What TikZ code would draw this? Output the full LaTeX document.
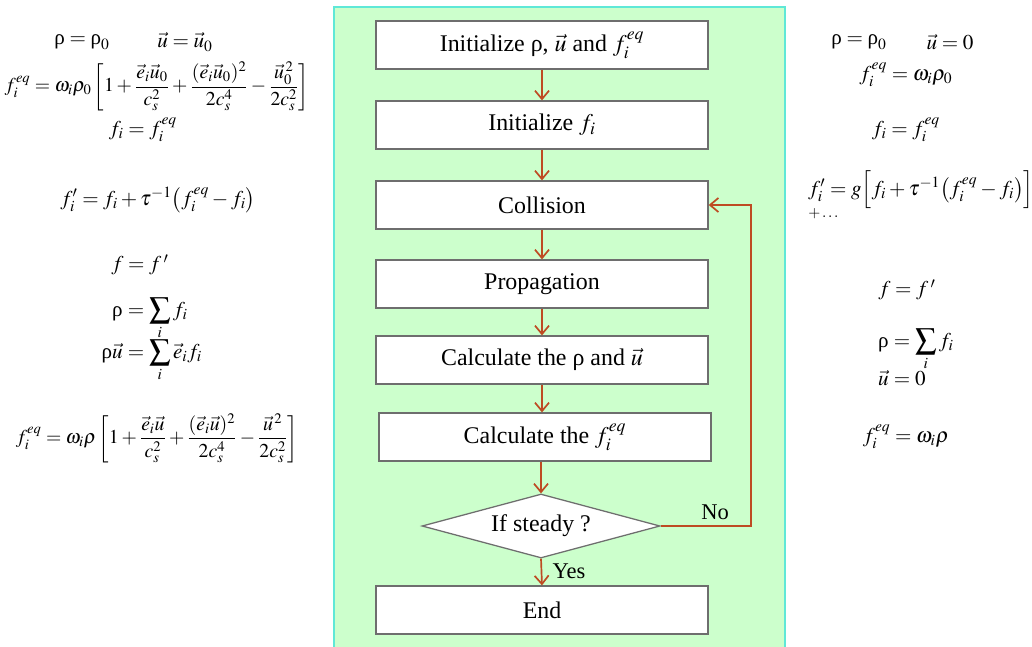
\documentclass[tikz,border=0pt]{standalone}
\usepackage{mathptmx}
\usepackage{fontspec}
\setmainfont{Liberation Serif}
\usetikzlibrary{shapes.geometric,arrows.meta}
\definecolor{panelfill}{RGB}{204,255,204}
\definecolor{panelline}{RGB}{95,232,215}
\definecolor{arrowc}{RGB}{190,75,35}
\definecolor{boxline}{RGB}{110,110,110}
\newcommand{\urho}{\mbox{ρ}}
\begin{document}
\begin{tikzpicture}[x=0.025cm,y=-0.025cm,
  stepbox/.style={draw=boxline,line width=0.9pt,fill=white,minimum width=8.3cm,minimum height=1.2cm,inner sep=0pt,font=\fontsize{17}{20}\selectfont},
  decision/.style={diamond,draw=boxline,line width=0.9pt,fill=white,aspect=3.7,minimum width=5.95cm,minimum height=1.6cm,inner sep=0pt,font=\fontsize{17}{20}\selectfont},
  flow/.style={draw=arrowc,line width=1.2pt,-{Straight Barb[length=6pt,width=10pt]}},
  eq/.style={inner sep=0pt,font=\fontsize{15}{18}\selectfont},
  bigeq/.style={inner sep=0pt,font=\fontsize{14}{17}\selectfont},
  lbl/.style={inner sep=0pt,font=\fontsize{16}{19}\selectfont}]
\useasboundingbox (0,0) rectangle (1032,646);
\fill[white] (0,0) rectangle (1032,646);
\draw[panelline,fill=panelfill,line width=1.5pt] (334,7) rectangle (785,650);

% flowchart
\node[stepbox] (b1) at (542,45) {Initialize ρ, $\vec u$ and $f_i^{eq}$};
\node[stepbox] (b2) at (542,125) {Initialize $f_i$};
\node[stepbox] (b3) at (542,205) {Collision};
\node[stepbox] (b4) at (542,284) {Propagation};
\node[stepbox] (b5) at (542,360) {Calculate the ρ and $\vec u$};
\node[stepbox] (b6) at (545,437) {Calculate the $f_i^{eq}$};
\node[decision] (d) at (541,526) {If steady ?};
\node[stepbox] (b7) at (542,610) {End};
\coordinate (fb) at (751,0);

\draw[flow] (b1.south) -- (b2.north);
\draw[flow] (b2.south) -- (b3.north);
\draw[flow] (b3.south) -- (b4.north);
\draw[flow] (b4.south) -- (b5.north);
\draw[flow] (b5.south) -- (b5.south |- b6.north);
\draw[flow] (b6.south -| d.north) -- (d.north);
\draw[flow] (d.south) -- (b7.north);
\draw[flow] (d.east) -- (d.east -| fb) -- (fb |- b3.east) -- (b3.east);
\node[lbl] (no) at (715,512) {No};
\node[lbl] (yes) at (569,571) {Yes};

% left column
\node[eq] (l1a) at (82,42) {$\urho = \urho_0$};
\node[eq] (l1b) at (185,42) {$\vec u = \vec u_0$};
\node[bigeq] (l2) at (157,86) {$\displaystyle f_i^{eq} = \omega_i\rho_0\left[1+\frac{\vec e_i\vec u_0}{c_s^2}+\frac{(\vec e_i\vec u_0)^2}{2c_s^4}-\frac{{\vec u_0}^{\,2}}{2c_s^2}\right]$};
\node[eq] (l3) at (143,130) {$f_i = f_i^{eq}$};
\node[eq] (l4) at (158,200) {$f_i' = f_i + \tau^{-1}\bigl(f_i^{eq} - f_i\bigr)$};
\node[eq] (l5) at (140,265) {$f = f\,'$};
\node[eq,anchor=base east] (l6a) at (123,316) {$\urho$};
\node[eq,anchor=base west] (l6b) at (123,316) {$\displaystyle {}= \sum_i f_i$};
\node[eq,anchor=base east] (l7a) at (123,358) {$\urho\vec u$};
\node[eq,anchor=base west] (l7b) at (123,358) {$\displaystyle {}= \sum_i \vec e_i f_i$};
\node[bigeq] (l8) at (157,438) {$\displaystyle f_i^{eq} = \omega_i\rho\left[1+\frac{\vec e_i\vec u}{c_s^2}+\frac{(\vec e_i\vec u)^2}{2c_s^4}-\frac{\vec u^{\,2}}{2c_s^2}\right]$};

% right column
\node[eq] (r1a) at (859,42) {$\urho = \urho_0$};
\node[eq] (r1b) at (950,42) {$\vec u = 0$};
\node[eq] (r2) at (906,75) {$f_i^{eq} = \omega_i\rho_0$};
\node[eq] (r3) at (906,130) {$f_i = f_i^{eq}$};
\node[eq,anchor=west] (r4) at (808,190) {$f_i' = g\Bigl[f_i + \tau^{-1}\bigl(f_i^{eq} - f_i\bigr)\Bigr]$};
\node[eq,anchor=west,font=\fontsize{11}{13}\selectfont] (r5) at (808,214) {$+\ldots$};
\node[eq] (r6) at (907,290) {$f = f\,'$};
\node[eq,anchor=base east] (r7a) at (889,347) {$\urho$};
\node[eq,anchor=base west] (r7b) at (889,347) {$\displaystyle {}= \sum_i f_i$};
\node[eq,anchor=base east] (r8a) at (889,385) {$\vec u$};
\node[eq,anchor=base west] (r8b) at (889,385) {${}= 0$};
\node[eq] (r9) at (906,437) {$f_i^{eq} = \omega_i\rho$};
\end{tikzpicture}
\end{document}
